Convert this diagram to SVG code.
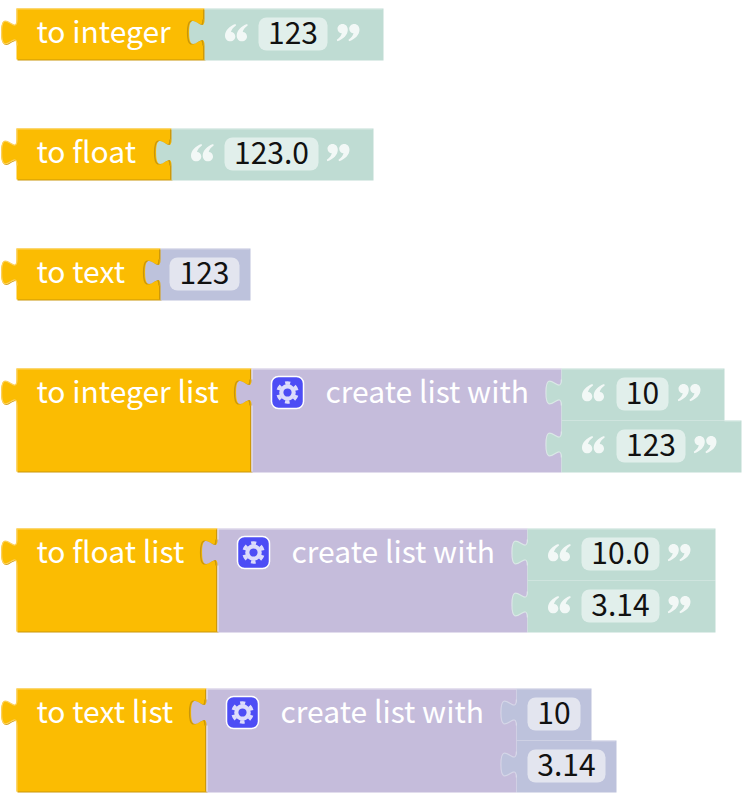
<svg xmlns="http://www.w3.org/2000/svg" xmlns:xlink="http://www.w3.org/1999/xlink" width="742" height="794" viewBox="0 0 742 794">
<style>
text{font-family:"Noto Sans CJK SC","Noto Sans",sans-serif;font-size:30px}
.lb{fill:#fff}
.v{fill:#111;text-anchor:middle}
.y{fill:#fbbc02}.yd{fill:#c9960a}
.t{fill:#bfdcd3}
.p{fill:#c5bcdb}
.b{fill:#bdc2dc}
.yl,.tl,.pl,.bl{fill:none;stroke-width:1.2}
.yl{stroke:#fcd15f}.tl{stroke:#e4f1ed;stroke-opacity:.7}.pl{stroke:#e8e4f1}.bl{stroke:#e5e7f1;stroke-opacity:.55}
.notch{fill:none;stroke:#c9960a;stroke-width:1.4}
.ft{fill:#e1efeb}.fb{fill:#e3e5ef}
.q{fill:#fff;opacity:.8}
.gb{fill:#4d4df5;stroke:#fff;stroke-width:1.5}
.g1{fill:none;stroke:#dcdcfb;stroke-width:4.2}
.g2{fill:none;stroke:#dcdcfb;stroke-width:3.5;stroke-dasharray:5 4.95;stroke-dashoffset:2.5}
</style>
<defs>
<path id="tab" d="M0,37c0,-17.3 -15.4,13.8 -15.4,-13s15.4,4.3 15.4,-13"/>
<path id="ql" d="M11,1.500C5,3.500 .5,8 .5,13C.5,16.500 2.700,18.800 5.800,18.800C8.800,18.800 10.800,16.600 10.800,14C10.800,11.300 8.800,9.500 6.500,9.500C7,7 8.800,5 11.500,3ZM22.700,1.500C16.700,3.500 12.200,8 12.200,13C12.200,16.500 14.400,18.800 17.500,18.800C20.500,18.800 22.500,16.600 22.500,14C22.500,11.300 20.500,9.500 18.200,9.500C18.700,7 20.500,5 23.200,3Z"/>
<path id="qr" d="M12.500,18.800C18.500,16.800 23,12.300 23,7.300C23,3.800 20.800,1.500 17.700,1.500C14.700,1.500 12.700,3.700 12.700,6.300C12.700,9 14.700,10.800 17,10.800C16.500,13.300 14.700,15.300 12,17.300ZM.8,18.800C6.800,16.800 11.300,12.300 11.300,7.300C11.300,3.800 9.100,1.500 6,1.500C3,1.500 1,3.700 1,6.300C1,9 3,10.800 5.300,10.800C4.800,13.300 3,15.300 .3,17.300Z"/>
<g id="gear"><rect class="gb" x="-16" y="-16" width="32" height="32" rx="7"/><circle class="g1" r="6.2"/><circle class="g2" r="9.5" transform="rotate(90)"/></g>
</defs>

<g id="connectors"></g>

<g id="diagram" transform="translate(-.5,-.5)">
<g id="to-integer" transform="translate(17,9)"><path class="yd" transform="translate(1,1)" d="M0,0H188V51H0V37c0,-17.3 -15.4,13.8 -15.4,-13s15.4,4.3 15.4,-13z"/><path class="y" d="M0,0H188V51H0V37c0,-17.3 -15.4,13.8 -15.4,-13s15.4,4.3 15.4,-13z"/><path class="yl" d="M.5,37c0,-17.3 -15.4,13.8 -15.4,-13s15.4,4.3 15.4,-13V.5H188"/><path class="notch" d="M187.300,1V11M187.300,37V51"/><use href="#tab" class="notch" x="186.500" y="0"/><text class="lb" x="20" y="34">to integer</text></g>
<g id="str-123" transform="translate(205,9)"><path class="t" d="M0,0H179V52H0V37c0,-17.3 -15.4,13.8 -15.4,-13s15.4,4.3 15.4,-13z"/><path class="tl" d="M0,.5H178"/><use href="#ql" class="q" x="20" y="14"/><rect class="ft" x="54" y="9" width="69" height="33" rx="8"/><text class="v" x="88.500" y="35">123</text><use href="#qr" class="q" x="132" y="14"/></g>

<g id="to-float" transform="translate(17,129)"><path class="yd" transform="translate(1,1)" d="M0,0H155V51H0V37c0,-17.3 -15.4,13.8 -15.4,-13s15.4,4.3 15.4,-13z"/><path class="y" d="M0,0H155V51H0V37c0,-17.3 -15.4,13.8 -15.4,-13s15.4,4.3 15.4,-13z"/><path class="yl" d="M.5,37c0,-17.3 -15.4,13.8 -15.4,-13s15.4,4.3 15.4,-13V.5H155"/><path class="notch" d="M154.300,1V11M154.300,37V51"/><use href="#tab" class="notch" x="153.500" y="0"/><text class="lb" x="20" y="34">to float</text></g>
<g id="str-123-0" transform="translate(172,129)"><path class="t" d="M0,0H202V52H0V37c0,-17.3 -15.4,13.8 -15.4,-13s15.4,4.3 15.4,-13z"/><path class="tl" d="M0,.5H201"/><use href="#ql" class="q" x="19" y="14"/><rect class="ft" x="53" y="9" width="94" height="33" rx="8"/><text class="v" x="100" y="35">123.0</text><use href="#qr" class="q" x="155" y="14"/></g>

<g id="to-text" transform="translate(17,249)"><path class="yd" transform="translate(1,1)" d="M0,0H144V51H0V37c0,-17.3 -15.4,13.8 -15.4,-13s15.4,4.3 15.4,-13z"/><path class="y" d="M0,0H144V51H0V37c0,-17.3 -15.4,13.8 -15.4,-13s15.4,4.3 15.4,-13z"/><path class="yl" d="M.5,37c0,-17.3 -15.4,13.8 -15.4,-13s15.4,4.3 15.4,-13V.5H144"/><path class="notch" d="M143.300,1V11M143.300,37V51"/><use href="#tab" class="notch" x="142.500" y="0"/><text class="lb" x="20" y="34">to text</text></g>
<g id="num-123" transform="translate(161,249)"><path class="b" d="M0,0H90V52H0V37c0,-17.3 -15.4,13.8 -15.4,-13s15.4,4.3 15.4,-13z"/><path class="bl" d="M0,.5H89"/><rect class="fb" x="9" y="9" width="70" height="33" rx="8"/><text class="v" x="44" y="35">123</text></g>

<g id="to-integer-list" transform="translate(17,369)"><path class="yd" transform="translate(1,1)" d="M0,0H235V103H0V37c0,-17.3 -15.4,13.8 -15.4,-13s15.4,4.3 15.4,-13z"/><path class="y" d="M0,0H235V103H0V37c0,-17.3 -15.4,13.8 -15.4,-13s15.4,4.3 15.4,-13z"/><path class="yl" d="M.5,103V37c0,-17.3 -15.4,13.8 -15.4,-13s15.4,4.3 15.4,-13V.5H235"/><path class="notch" d="M234.300,1V11M234.300,37V103"/><use href="#tab" class="notch" x="233.500" y="0"/><text class="lb" x="20" y="34">to integer list</text></g>
<g id="list-1" transform="translate(252,369)"><path class="p" d="M0,0H310V104H0V37c0,-17.3 -15.4,13.8 -15.4,-13s15.4,4.3 15.4,-13z"/><path class="pl" d="M.5,103V37M.5,11V.5H310"/><use href="#gear" x="36" y="24"/><text class="lb" x="74" y="34">create list with</text></g>
<g id="str-10-a" transform="translate(562,369)"><path class="t" d="M0,0H163V52H0V37c0,-17.3 -15.4,13.8 -15.4,-13s15.4,4.3 15.4,-13z"/><path class="tl" d="M0,.5H162M-.2,37c0,-17.3 -15.4,13.8 -15.4,-13s15.4,4.3 15.4,-13"/><use href="#ql" class="q" x="20" y="14"/><rect class="ft" x="55" y="9" width="52" height="33" rx="8"/><text class="v" x="81" y="35">10</text><use href="#qr" class="q" x="116" y="14"/></g>
<g id="str-123-a" transform="translate(562,421)"><path class="t" d="M0,0H180V52H0V37c0,-17.3 -15.4,13.8 -15.4,-13s15.4,4.3 15.4,-13z"/><path class="tl" d="M163,.5H179M-.2,37c0,-17.3 -15.4,13.8 -15.4,-13s15.4,4.3 15.4,-13"/><use href="#ql" class="q" x="20" y="14"/><rect class="ft" x="55" y="9" width="69" height="33" rx="8"/><text class="v" x="89.500" y="35">123</text><use href="#qr" class="q" x="132" y="14"/></g>

<g id="to-float-list" transform="translate(17,529)"><path class="yd" transform="translate(1,1)" d="M0,0H201V103H0V37c0,-17.3 -15.4,13.8 -15.4,-13s15.4,4.3 15.4,-13z"/><path class="y" d="M0,0H201V103H0V37c0,-17.3 -15.4,13.8 -15.4,-13s15.4,4.3 15.4,-13z"/><path class="yl" d="M.5,103V37c0,-17.3 -15.4,13.8 -15.4,-13s15.4,4.3 15.4,-13V.5H201"/><path class="notch" d="M200.300,1V11M200.300,37V103"/><use href="#tab" class="notch" x="199.500" y="0"/><text class="lb" x="20" y="34">to float list</text></g>
<g id="list-2" transform="translate(218,529)"><path class="p" d="M0,0H310V104H0V37c0,-17.3 -15.4,13.8 -15.4,-13s15.4,4.3 15.4,-13z"/><path class="pl" d="M.5,103V37M.5,11V.5H310"/><use href="#gear" x="36" y="24"/><text class="lb" x="74" y="34">create list with</text></g>
<g id="str-10-0" transform="translate(528,529)"><path class="t" d="M0,0H188V52H0V37c0,-17.3 -15.4,13.8 -15.4,-13s15.4,4.3 15.4,-13z"/><path class="tl" d="M0,.5H187M-.2,37c0,-17.3 -15.4,13.8 -15.4,-13s15.4,4.3 15.4,-13"/><use href="#ql" class="q" x="20" y="14"/><rect class="ft" x="54" y="9" width="78" height="33" rx="8"/><text class="v" x="93" y="35">10.0</text><use href="#qr" class="q" x="140" y="14"/></g>
<g id="str-3-14" transform="translate(528,581)"><path class="t" d="M0,0H188V52H0V37c0,-17.3 -15.4,13.8 -15.4,-13s15.4,4.3 15.4,-13z"/><path class="tl" d="M-.2,37c0,-17.3 -15.4,13.8 -15.4,-13s15.4,4.3 15.4,-13"/><use href="#ql" class="q" x="20" y="14"/><rect class="ft" x="54" y="9" width="78" height="33" rx="8"/><text class="v" x="93" y="35">3.14</text><use href="#qr" class="q" x="140" y="14"/></g>

<g id="to-text-list" transform="translate(17,689)"><path class="yd" transform="translate(1,1)" d="M0,0H190V103H0V37c0,-17.3 -15.4,13.8 -15.4,-13s15.4,4.3 15.4,-13z"/><path class="y" d="M0,0H190V103H0V37c0,-17.3 -15.4,13.8 -15.4,-13s15.4,4.3 15.4,-13z"/><path class="yl" d="M.5,103V37c0,-17.3 -15.4,13.8 -15.4,-13s15.4,4.3 15.4,-13V.5H190"/><path class="notch" d="M189.300,1V11M189.300,37V103"/><use href="#tab" class="notch" x="188.500" y="0"/><text class="lb" x="20" y="34">to text list</text></g>
<g id="list-3" transform="translate(207,689)"><path class="p" d="M0,0H310V104H0V37c0,-17.3 -15.4,13.8 -15.4,-13s15.4,4.3 15.4,-13z"/><path class="pl" d="M.5,103V37M.5,11V.5H310"/><use href="#gear" x="36" y="24"/><text class="lb" x="74" y="34">create list with</text></g>
<g id="num-10" transform="translate(517,689)"><path class="b" d="M0,0H75V52H0V37c0,-17.3 -15.4,13.8 -15.4,-13s15.4,4.3 15.4,-13z"/><path class="bl" d="M0,.5H74M-.2,37c0,-17.3 -15.4,13.8 -15.4,-13s15.4,4.3 15.4,-13"/><rect class="fb" x="11" y="9" width="53" height="33" rx="8"/><text class="v" x="37.500" y="35">10</text></g>
<g id="num-3-14" transform="translate(517,741)"><path class="b" d="M0,0H100V52H0V37c0,-17.3 -15.4,13.8 -15.4,-13s15.4,4.3 15.4,-13z"/><path class="bl" d="M75,.5H99M-.2,37c0,-17.3 -15.4,13.8 -15.4,-13s15.4,4.3 15.4,-13"/><rect class="fb" x="11" y="9" width="78" height="33" rx="8"/><text class="v" x="50" y="35">3.14</text></g>
</g>
</svg>
